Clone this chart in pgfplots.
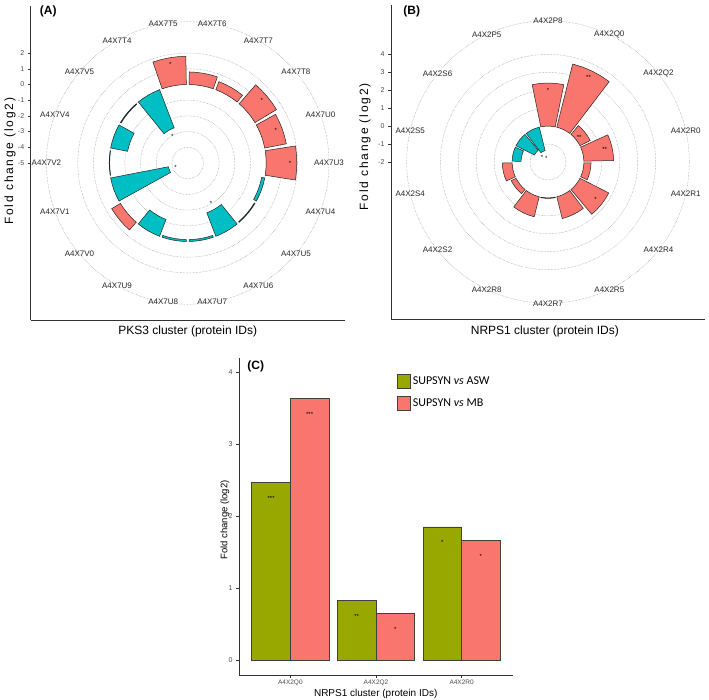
\documentclass[border=0pt]{standalone}
\usepackage{fontspec}
\setmainfont{Liberation Sans}
\newfontfamily\carlito{Carlito}
\usepackage{pgfplots}
\usepackage{pgfplotstable}
\pgfplotsset{compat=1.18}
\definecolor{salmon}{HTML}{F8766D}
\definecolor{tealc}{HTML}{00BFC4}
\definecolor{olivec}{HTML}{99A800}
\definecolor{gridc}{HTML}{8C8C8C}
\definecolor{axc}{HTML}{333333}
\newcommand\fs[1]{\fontsize{#1}{#1}\selectfont}

% Panel A: PKS3 cluster, pos = clockwise slot (angle = 10 + 20*pos), val = log2 FC
\pgfplotstableread{
id      pos val
A4X7T6  0   0.80
A4X7T7  1   0.55
A4X7T8  2   1.60
A4X7U0  3   1.40
A4X7U3  4   1.95
A4X7U4  5   -0.20
A4X7U5  6   -0.05
A4X7U6  7   -1.60
A4X7U7  8   -0.12
A4X7U8  9   -0.12
A4X7U9  10  -1.15
A4X7V0  11  0.65
A4X7V1  12  -3.75
A4X7V2  13  -0.03
A4X7V4  14  -1.10
A4X7V5  15  -0.05
A4X7T4  16  -2.60
A4X7T5  17  1.80
}\tblA
\pgfplotstableread{
pos val lab
2  1.60  *
3  1.40  *
4  1.95  *
7  -1.60 *
12 -3.75 *
16 -2.60 *
17 1.80  *
}\starA

% Panel B: NRPS1 cluster, angle = 25.714*pos
\pgfplotstableread{
id      pos val
A4X2P8  0   2.40
A4X2Q0  1   3.63
A4X2Q2  2   0.64
A4X2R0  3   1.66
A4X2R1  4   0.40
A4X2R4  5   1.80
A4X2R5  6   1.25
A4X2R7  7   0.03
A4X2R8  8   1.15
A4X2S2  9   0.30
A4X2S4  10  0.55
A4X2S5  11  -0.50
A4X2S6  12  -1.15
A4X2P5  13  -1.35
}\tblB
\pgfplotstableread{
pos val lab
0  2.40  *
1  3.63  **
2  0.64  **
3  1.66  **
5  1.80  *
12 -1.15 *
13 -1.35 *
}\starB

% Panel C
\pgfplotstableread{
pos asw  mb   sasw smb
1   2.47 3.64 ***  ***
2   0.83 0.64 **   *
3   1.85 1.66 *    *
}\tblC

\pgfplotsset{
  /pgf/number format/assume math mode=true,
  polarbar/.style={draw=black!85, line width=0.5pt, mark=none, data cs=polar, line join=miter},
  polarpanel/.style={
    scale only axis, width=314pt, height=314pt,
    axis x line*=bottom, axis y line*=left,
    axis line style={axc, line width=0.7pt},
    xtick=\empty,
    tick align=outside, major tick length=3pt,
    tick style={axc, line width=0.5pt},
    yticklabel style={font=\fs{7}, text=black!70},
    clip=false,
  },
  labelplot/.style={draw=none, mark=none, data cs=polar, point meta=explicit symbolic,
    nodes near coords, nodes near coords style={anchor=center, font=\fs{8}, text=black!85}},
  starplot/.style={draw=none, mark=none, data cs=polar, point meta=explicit symbolic,
    nodes near coords, nodes near coords style={anchor=center, font=\fs{6}, text=black}},
}

% one polar bar: #1 clock angle of centre, #2 half width (deg), #3 inner r, #4 outer r, #5 colour
\newcommand\polarbar[5]{%
  \pgfmathsetmacro\pa{90-(#1)+(#2)}%
  \pgfmathsetmacro\pb{90-(#1)+(#2)/2}%
  \pgfmathsetmacro\pc{90-(#1)}%
  \pgfmathsetmacro\pd{90-(#1)-(#2)/2}%
  \pgfmathsetmacro\pe{90-(#1)-(#2)}%
  \pgfmathsetmacro\ra{#3}\pgfmathsetmacro\rb{#4}%
  \edef\tmp{\noexpand\addplot[polarbar, fill=#5] coordinates {(\pa,\ra) (\pa,\rb) (\pb,\rb) (\pc,\rb) (\pd,\rb) (\pe,\rb) (\pe,\ra) (\pd,\ra) (\pc,\ra) (\pb,\ra) (\pa,\ra)} -- cycle;}%
  \tmp}
% all bars of a table: #1 table, #2 start angle, #3 step, #4 half width, #5 radius of value 0
\newcommand\drawbars[5]{%
  \pgfplotstablegetrowsof{#1}%
  \pgfmathtruncatemacro\nrows{\pgfplotsretval-1}%
  \pgfplotsforeachungrouped \i in {0,...,\nrows}{%
    \pgfplotstablegetelem{\i}{pos}\of#1\let\bpos\pgfplotsretval
    \pgfplotstablegetelem{\i}{val}\of#1\let\bval\pgfplotsretval
    \pgfmathsetmacro\bang{#2+#3*\bpos}%
    \pgfmathsetmacro\brout{#5+\bval}%
    \pgfmathtruncatemacro\bpositive{\bval>0}%
    \ifnum\bpositive=1 \def\bcol{salmon}\else\def\bcol{tealc}\fi
    \polarbar{\bang}{#4}{#5}{\brout}{\bcol}%
  }%
}

\begin{document}
\begin{tikzpicture}
\path[use as bounding box] (0pt,0pt) rectangle (709pt,700pt);

% ---------------- Panel A ----------------
\begin{axis}[polarpanel,
  at={(30.7pt,380pt)}, anchor=south west,
  xmin=-10, xmax=10, ymin=-10, ymax=10,
  ytick={0,1,2,3,4,5,6,7}, yticklabels={-5,-4,-3,-2,-1,0,1,2},
  xlabel={PKS3 cluster (protein IDs)},
  ylabel={\addfontfeatures{LetterSpace=15}Fold change (log2)},
  every axis x label/.style={at={(axis description cs:0.5,-0.037)}, anchor=center, font=\fs{12}},
  every axis y label/.style={at={(axis description cs:-0.066,0.506)}, rotate=90, anchor=center, font=\fs{12}},
]
\pgfplotsinvokeforeach{1,2,3,4,5,6,7,9}{\draw[gridc, densely dotted, line width=0.45pt] (axis cs:0,0) circle[radius=#1];}
\drawbars{\tblA}{10}{20}{9}{5}
\addplot[starplot] table[x expr={90-(10+20*\thisrow{pos})}, y expr={\thisrow{val}+5-0.43}, meta=lab]{\starA};
\addplot[labelplot] table[x expr={90-(10+20*\thisrow{pos})}, y expr={9}, meta=id]{\tblA};
\node[font=\bfseries\fs{12}] at (rel axis cs:0.056,0.982) {(A)};
\end{axis}

% ---------------- Panel B ----------------
\begin{axis}[polarpanel,
  at={(391pt,381pt)}, anchor=south west,
  xmin=-8.75, xmax=8.75, ymin=-8.75, ymax=8.75,
  ytick={0,1,2,3,4,5,6}, yticklabels={-2,-1,0,1,2,3,4},
  xlabel={NRPS1 cluster (protein IDs)},
  ylabel={\addfontfeatures{LetterSpace=15}Fold change (log2)},
  every axis x label/.style={at={(axis description cs:0.49,-0.041)}, anchor=center, font=\fs{12}},
  every axis y label/.style={at={(axis description cs:-0.083,0.548)}, rotate=90, anchor=center, font=\fs{12}},
]
\pgfplotsinvokeforeach{1,2,3,4,5,6,7.875}{\draw[gridc, densely dotted, line width=0.45pt] (axis cs:0,0) circle[radius=#1];}
\drawbars{\tblB}{0}{25.714}{11.57}{2}
\addplot[starplot] table[x expr={90-25.714*\thisrow{pos}}, y expr={\thisrow{val}+2-0.42}, meta=lab]{\starB};
\addplot[labelplot] table[x expr={90-25.714*\thisrow{pos}}, y expr={7.875}, meta=id]{\tblB};
\node[font=\bfseries\fs{12}] at (rel axis cs:0.066,0.979) {(B)};
\end{axis}

% ---------------- Panel C ----------------
\begin{axis}[
  at={(239pt,25pt)}, anchor=south west,
  scale only axis, width=274pt, height=317pt,
  xmin=0.4, xmax=3.6, ymin=-0.21, ymax=4.2,
  axis x line*=bottom, axis y line*=left,
  axis line style={axc, line width=0.7pt},
  tick align=outside, major tick length=3pt,
  tick style={axc, line width=0.5pt},
  xtick={1,2,3}, xticklabels={A4X2Q0,A4X2Q2,A4X2R0},
  ytick={0,1,2,3,4},
  yticklabel style={font=\fs{7}, text=black!70},
  xticklabel style={font=\fs{6.5}, text=black!70, yshift=2pt},
  xlabel={NRPS1 cluster (protein IDs)},
  ylabel={Fold change (log2)},
  every axis x label/.style={at={(axis description cs:0.499,-0.06)}, anchor=center, font=\fs{10}},
  every axis y label/.style={at={(axis description cs:-0.051,0.489)}, rotate=90, anchor=center, font=\fs{9.5}},
  legend style={at={(axis description cs:0.565,0.955)}, anchor=north west, draw=none, fill=none,
    font=\carlito\fs{12}, row sep=7pt, cells={anchor=west}},
  clip=false,
]
\addplot[ybar, bar width=0.45, bar shift=-0.225, fill=olivec, draw=black!75, line width=0.8pt,
  legend image code/.code={\draw[fill=olivec, draw=black!75, line width=0.8pt] (0pt,-7pt) rectangle (13pt,7pt);}]
  table[x=pos, y=asw]{\tblC};
\addlegendentry{SUPSYN \textit{vs} ASW}
\addplot[ybar, bar width=0.45, bar shift=0.225, fill=salmon, draw=black!75, line width=0.8pt,
  legend image code/.code={\draw[fill=salmon, draw=black!75, line width=0.8pt] (0pt,-7pt) rectangle (13pt,7pt);}]
  table[x=pos, y=mb]{\tblC};
\addlegendentry{SUPSYN \textit{vs} MB}
\addplot[forget plot, draw=none, mark=none, point meta=explicit symbolic, nodes near coords,
  nodes near coords style={anchor=center, font=\fs{6}}]
  table[x expr={\thisrow{pos}-0.225}, y expr={\thisrow{asw}-0.22}, meta=sasw]{\tblC};
\addplot[forget plot, draw=none, mark=none, point meta=explicit symbolic, nodes near coords,
  nodes near coords style={anchor=center, font=\fs{6}}]
  table[x expr={\thisrow{pos}+0.225}, y expr={\thisrow{mb}-0.22}, meta=smb]{\tblC};
\node[font=\bfseries\fs{12}] at (rel axis cs:0.061,0.975) {(C)};
\end{axis}
\end{tikzpicture}
\end{document}
